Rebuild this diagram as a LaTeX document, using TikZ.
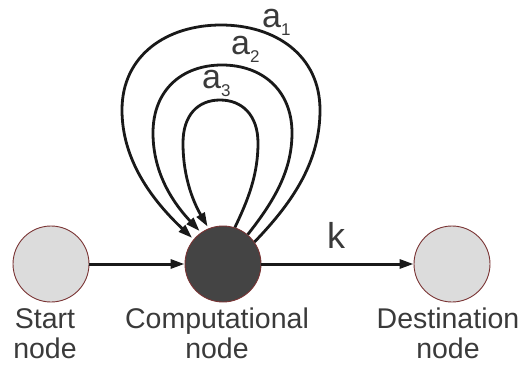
\documentclass[tikz,border=0pt]{standalone}
\usepackage{fontspec}
\setmainfont{Liberation Sans}
\usetikzlibrary{arrows.meta}
\definecolor{rimred}{HTML}{7A3434}
\definecolor{lightfill}{HTML}{DCDCDC}
\definecolor{darkfill}{HTML}{444444}
\definecolor{inkgray}{HTML}{3A3A3A}
\tikzset{
  plainnode/.style={circle, draw=rimred, line width=0.9pt, fill=lightfill, minimum size=76pt, inner sep=0pt},
  compnode/.style={circle, draw=rimred, line width=0.9pt, fill=darkfill, minimum size=76pt, inner sep=0pt},
  caption/.style={align=center, text=inkgray, font=\fontsize{28.5}{30}\selectfont, anchor=base, inner sep=0pt},
  edgelabel/.style={text=inkgray, font=\fontsize{36}{36}\selectfont, anchor=base west, inner sep=0pt},
  looplabel/.style={edgelabel, font=\fontsize{34}{34}\selectfont, text height=0.55em},
  flow/.style={line width=3pt, draw=black!90, -{Triangle[length=14pt,width=9pt]}},
  loopline/.style={line width=2.8pt, draw=black!90, -{Triangle[length=14pt,width=9pt]}, shorten >=2pt},
}
\newcommand{\subidx}[1]{\raisebox{-8pt}{\fontsize{17}{17}\selectfont #1}}
\begin{document}
\begin{tikzpicture}[x=1pt, y=-1pt]
  \useasboundingbox (0,0) rectangle (522,367);

  % the three nodes
  \node[plainnode] (start) at (51,264) {};
  \node[compnode]  (comp)  at (223,264) {};
  \node[plainnode] (dest)  at (452,264) {};

  % captions under the nodes (anchored at the baseline of the last line)
  \node[caption] (startcap) at (45,358) {Start\\node};
  \node[caption] (compcap)  at (217,358) {Computational\\node};
  \node[caption] (destcap)  at (448,358) {Destination\\node};

  % straight edges
  \draw[flow] (start) -- (comp);
  \draw[flow] (comp) -- (dest);
  \node[edgelabel] (klabel) at (327,248) {k};

  % self loops on the computational node
  \draw[loopline] (comp.35) .. controls (295,200) and (320,160) .. (320,110)
      .. controls (320,55) and (275,25) .. (221,25)
      .. controls (167,25) and (122,55) .. (122,110)
      .. controls (122,160) and (152,200) .. (comp.140);
  \draw[loopline] (comp.50) .. controls (275,200) and (292,170) .. (292,133)
      .. controls (292,90) and (262,65) .. (222,65)
      .. controls (182,65) and (153,90) .. (153,133)
      .. controls (153,175) and (175,205) .. (comp.125);
  \draw[loopline] (comp.72) .. controls (248,200) and (258,175) .. (258,143)
      .. controls (258,115) and (242,100) .. (220,100)
      .. controls (198,100) and (183,115) .. (183,143)
      .. controls (183,180) and (195,205) .. (comp.112);

  % loop labels
  \node[looplabel] (aone)   at (262,27) {a\subidx{1}};
  \node[looplabel] (atwo)   at (231,54) {a\subidx{2}};
  \node[looplabel] (athree) at (202,88) {a\subidx{3}};
\end{tikzpicture}
\end{document}
